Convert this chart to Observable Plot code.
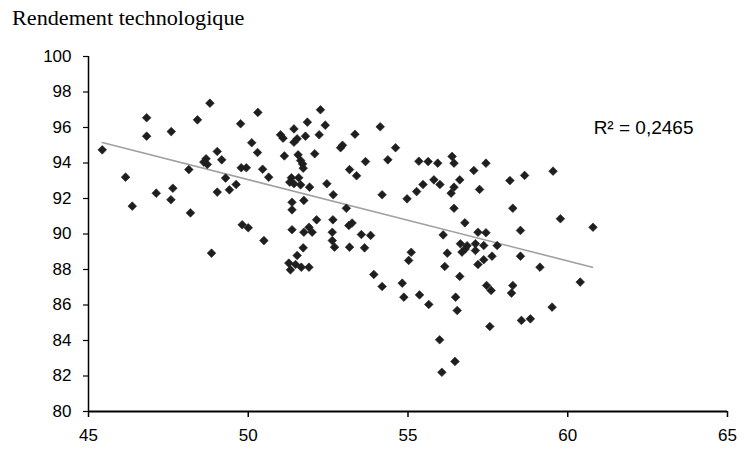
<!DOCTYPE html>
<html><head><meta charset="utf-8">
<script src="https://cdn.jsdelivr.net/npm/d3@7"></script>
<script src="https://cdn.jsdelivr.net/npm/@observablehq/plot@0.6"></script>
<style>
body{margin:0;background:#fff;position:relative;width:754px;height:454px;overflow:hidden;}
#title{position:absolute;left:12px;top:9px;font-family:"Liberation Serif","Times New Roman",serif;font-size:20px;line-height:19px;color:#000;white-space:nowrap;transform:scaleX(1.11);transform-origin:0 0;}
#chart{position:absolute;left:0;top:36px;}
</style></head><body>
<div id="title">Rendement technologique</div>
<div id="chart"></div>
<script>
const xs = [45.43,46.82,46.82,47.59,48.41,48.80,46.16,46.37,47.12,47.64,47.58,48.14,48.19,48.68,48.61,48.72,49.03,49.17,49.29,49.03,49.41,49.62,49.76,49.78,49.81,48.85,
50.30,52.26,51.85,52.41,51.43,51.01,51.09,51.79,52.22,51.43,51.53,54.13,53.34,54.61,50.11,50.29,51.13,51.56,51.64,51.70,52.08,52.89,52.95,53.67,54.37,49.94,50.45,50.64,51.72,53.17,53.39,
51.35,51.58,51.43,51.64,51.30,51.92,52.46,52.66,51.74,51.37,51.37,53.07,54.19,54.97,50.00,50.49,51.37,51.74,51.90,52.00,52.14,52.65,52.63,52.63,52.70,53.15,53.17,53.54,53.83,53.64,51.72,51.53,55.10,55.02,53.25,
51.27,51.32,51.48,51.66,51.90,53.93,54.19,54.82,54.87,
55.34,55.63,55.93,56.38,56.44,57.06,57.44,58.19,58.65,59.54,55.47,55.27,55.81,56.00,56.62,56.44,56.35,57.24,56.44,58.28,59.77,56.78,56.10,57.19,57.44,58.52,
56.64,56.79,56.69,56.85,57.11,57.37,57.11,57.79,56.23,57.63,57.37,58.52,56.15,57.19,59.13,
60.39,55.36,55.65,56.62,56.49,56.54,57.46,57.60,58.28,58.24,59.51,57.56,58.55,58.83,55.99,56.47,56.06,60.79];
const ys = [94.74,96.55,95.51,95.77,96.43,97.37,93.20,91.57,92.30,92.58,91.93,93.63,91.19,94.24,94.05,93.92,94.65,94.18,93.15,92.36,92.49,92.79,96.21,93.73,90.52,88.92,
96.85,97.00,96.30,96.13,95.92,95.59,95.40,95.51,95.59,95.17,95.36,96.04,95.62,94.86,95.14,94.59,94.40,94.46,94.14,93.95,94.52,94.86,95.00,94.08,94.18,93.73,93.65,93.20,93.71,93.63,93.28,
93.17,93.17,92.83,92.77,92.92,92.64,92.83,92.21,91.89,91.79,91.36,91.45,92.21,91.98,90.35,89.63,90.24,90.10,90.38,90.10,90.80,90.80,90.10,89.63,89.26,90.48,89.26,89.97,89.92,89.22,89.22,88.79,88.97,88.51,90.62,
88.36,87.98,88.28,88.13,88.13,87.72,87.04,87.23,86.44,
94.10,94.08,93.99,94.37,93.99,93.58,93.99,93.01,93.30,93.54,92.79,92.39,93.05,92.79,93.05,92.64,92.30,92.51,91.45,91.45,90.86,90.63,89.95,90.10,90.07,90.20,
89.45,89.16,88.98,89.34,89.45,89.35,89.07,89.35,88.92,88.75,88.55,88.75,88.17,88.28,88.13,
87.29,86.57,86.03,87.61,86.44,85.69,87.10,86.82,87.10,86.67,85.88,84.79,85.13,85.22,84.04,82.82,82.21,90.38];
const xTicks = [45, 50, 55, 60, 65];
const yTicks = [80, 82, 84, 86, 88, 90, 92, 94, 96, 98, 100];
const trendX = [45.43, 60.77];
const trendY = [95.15, 88.13];
const r2Text = ["R² = 0,2465"];
const r2X = [60.81];
const r2Y = [96.0];

const points = xs.map((x, i) => ({x, y: ys[i]}));
const trend = trendX.map((x, i) => ({x, y: trendY[i]}));
const r2 = r2Text.map((t, i) => ({x: r2X[i], y: r2Y[i], t}));

const chart = Plot.plot({
  width: 754, height: 418,
  marginLeft: 88, marginRight: 27, marginTop: 20, marginBottom: 43,
  x: {domain: [45, 65]},
  y: {domain: [80, 100]},
  style: {fontFamily: "'Liberation Sans', Arial, sans-serif", fontSize: "17px", color: "#000", background: "#fff", overflow: "visible"},
  marks: [
    Plot.axisX({ticks: xTicks, tickSize: 6, tickPadding: 11, fontSize: 17, label: null, tickFormat: d => String(d), stroke: "#000", strokeWidth: 1.5}),
    Plot.axisY({ticks: yTicks, tickSize: 5, tickPadding: 12, fontSize: 17, label: null, tickFormat: d => String(d), stroke: "#000", strokeWidth: 1.2}),
    Plot.ruleY([80], {stroke: "#000", strokeWidth: 2}),
    Plot.ruleX([45], {stroke: "#000", strokeWidth: 1.5}),
    Plot.line(trend, {x: "x", y: "y", stroke: "#a0a0a0", strokeWidth: 1.6}),
    Plot.dot(points, {x: "x", y: "y", symbol: "diamond2", r: 3.9, fill: "#1e1e1e", stroke: "#1e1e1e", strokeWidth: 0.6}),
    Plot.text(r2, {x: "x", y: "y", text: "t", textAnchor: "start", fontSize: 19, fill: "#000"})
  ]
});
document.getElementById("chart").appendChild(chart);
</script>
</body></html>
